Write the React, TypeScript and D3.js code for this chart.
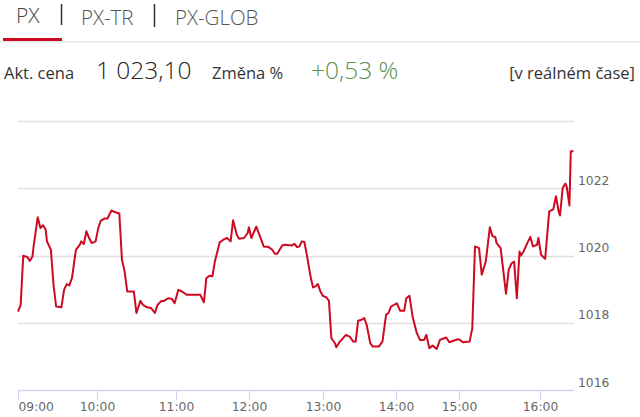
import React from "react";
import * as d3 from "d3";

// ---- data ----
const tabs = ["PX", "PX-TR", "PX-GLOB"];
const priceLabel = "Akt. cena";
const priceValue = "1 023,10";
const changeLabel = "Změna %";
const changeValue = "+0,53 %";
const realtimeLabel = "[v reálném čase]";

const times = [
  "09:00","09:02","09:04","09:07","09:09","09:11","09:12","09:15","09:17","09:19",
  "09:21","09:22","09:25","09:27","09:29","09:33","09:35","09:37","09:39","09:41",
  "09:44","09:47","09:48","09:50","09:52","09:54","09:56","09:59","10:01","10:03",
  "10:06","10:08","10:11","10:13","10:17","10:19","10:21","10:23","10:28","10:30",
  "10:33","10:35","10:38","10:41","10:44","10:46","10:49","10:51","10:54","10:57",
  "10:59","11:02","11:05","11:09","11:20","11:23","11:25","11:28","11:30","11:32",
  "11:36","11:39","11:42","11:45","11:47","11:50","11:52","11:56","11:59","12:00",
  "12:02","12:06","12:09","12:12","12:16","12:19","12:21","12:23","12:27","12:29",
  "12:35","12:37","12:39","12:41","12:43","12:45","12:47","12:50","12:52","12:54",
  "12:56","12:58","13:00","13:03","13:05","13:07","13:10","13:11","13:14","13:19",
  "13:22","13:25","13:27","13:29","13:32","13:34","13:36","13:39","13:41","13:46",
  "13:49","13:52","13:54","13:56","14:01","14:04","14:08","14:10","14:13","14:16",
  "14:20","14:23","14:27","14:29","14:32","14:35","14:39","14:42","14:46","14:48",
  "14:51","14:59","15:01","15:03","15:08","15:10","15:12","15:15","15:17","15:20",
  "15:23","15:25","15:27","15:28","15:31","15:35","15:37","15:39","15:41","15:43",
  "15:45","15:46","15:48","15:51","15:53","15:55","15:58","15:59","16:01","16:04",
  "16:05","16:07","16:10","16:12","16:14","16:15","16:17","16:19","16:20","16:22",
  "16:23","16:25",
];

const values = [
  1018.33,1018.53,1019.99,1019.96,1019.84,1019.97,1020.32,1021.14,1020.82,1020.90,
  1020.77,1020.42,1020.17,1019.13,1018.48,1018.46,1018.98,1019.15,1019.11,1019.33,
  1020.17,1020.32,1020.42,1020.34,1020.72,1020.52,1020.37,1020.42,1020.82,1021.04,
  1021.10,1021.10,1021.34,1021.30,1021.25,1019.87,1019.53,1018.93,1018.93,1018.29,
  1018.65,1018.53,1018.46,1018.44,1018.29,1018.53,1018.65,1018.65,1018.73,1018.71,
  1018.58,1018.98,1018.93,1018.83,1018.83,1018.61,1019.33,1019.40,1019.38,1019.82,
  1020.39,1020.47,1020.52,1020.42,1021.05,1020.62,1020.50,1020.52,1020.67,1020.84,
  1020.52,1020.86,1020.57,1020.27,1020.25,1020.17,1020.05,1020.05,1020.30,1020.32,
  1020.30,1020.35,1020.25,1020.27,1020.42,1020.40,1020.02,1019.38,1019.05,1019.08,
  1019.15,1018.93,1018.80,1018.75,1018.65,1017.54,1017.39,1017.27,1017.44,1017.64,
  1017.59,1017.44,1017.44,1018.06,1018.09,1018.14,1017.94,1017.39,1017.29,1017.29,
  1017.44,1018.24,1018.29,1018.48,1018.58,1018.36,1018.36,1018.73,1018.80,1018.18,
  1017.69,1017.49,1017.49,1017.64,1017.24,1017.32,1017.22,1017.49,1017.54,1017.56,
  1017.42,1017.51,1017.49,1017.42,1017.44,1017.84,1020.27,1020.22,1019.43,1019.82,
  1020.84,1020.57,1020.55,1020.37,1020.22,1018.86,1019.58,1019.76,1019.82,1018.73,
  1020.12,1020.00,1020.12,1020.39,1020.55,1020.27,1020.32,1020.52,1020.02,1019.90,
  1020.37,1021.31,1021.37,1021.76,1021.31,1021.19,1022.01,1022.14,1022.04,1021.49,
  1023.10,1023.10,
];

const xTickLabels = ["09:00","10:00","11:00","12:00","13:00","14:00","15:00","16:00"];
// relative ordinal width of each trading hour (Highcharts ordinal axis)
const hourWeights = [79, 79, 73, 74, 73, 63, 81];
const yTicks = [1016, 1018, 1020, 1022, 1024];
const yLabelTicks = [1016, 1018, 1020, 1022];

const RED = "#cc0a22";
const toMin = (s: string) => {
  const [h, m] = s.split(":").map(Number);
  return (h - 9) * 60 + m;
};

export default function App() {
  const W = 640, H = 417;
  const plotL = 18, plotR = 573.5, plotT = 121, plotB = 390;

  const lastMin = toMin(times[times.length - 1]);
  const domain = xTickLabels.map(toMin).concat([lastMin]);
  const weights = hourWeights.concat([hourWeights[hourWeights.length - 1] * (lastMin - toMin(xTickLabels[xTickLabels.length - 1])) / 60]);
  const cum = [0];
  weights.forEach((w) => cum.push(cum[cum.length - 1] + w));
  const total = cum[cum.length - 1];
  const range = cum.map((c) => plotL + (c / total) * (plotR - plotL));
  const x = d3.scaleLinear().domain(domain).range(range);
  const y = d3.scaleLinear().domain([1016, 1024]).range([plotB, plotT]);

  const pts: [number, number][] = times.map((t, i) => [toMin(t), values[i]]);
  const line = d3.line<[number, number]>().x((d) => x(d[0])).y((d) => y(d[1]));

  const font = "'Open Sans', sans-serif";
  const axisFont = "'DejaVu Sans', Verdana, sans-serif";

  return (
    <svg width={W} height={H} style={{ position: "absolute", left: 0, top: 0, background: "#fff" }}>
      {/* tabs */}
      <text x={16} y={22.5} fontFamily={font} fontWeight={300} fontSize={21} fill="#444">{tabs[0]}</text>
      <line x1={61.5} x2={61.5} y1={4} y2={25} stroke="#333" strokeWidth={1.5} />
      <text x={81} y={25} fontFamily={font} fontWeight={300} fontSize={20.5} fill="#555">{tabs[1]}</text>
      <line x1={154.5} x2={154.5} y1={4} y2={27} stroke="#333" strokeWidth={1.5} />
      <text x={175} y={25} fontFamily={font} fontWeight={300} fontSize={20.5} fill="#555">{tabs[2]}</text>
      <rect x={0} y={41} width={W} height={1.5} fill="#e6e6e6" />
      <rect x={3} y={38} width={59} height={3} fill={RED} />

      {/* price row */}
      <text x={4} y={79} fontFamily={font} fontSize={16.5} fill="#333">{priceLabel}</text>
      <text x={96} y={79} fontFamily={font} fontWeight={300} fontSize={24.5} fill="#222">{priceValue}</text>
      <text x={212} y={79} fontFamily={font} fontSize={16.5} fill="#333">{changeLabel}</text>
      <text x={311} y={79} fontFamily={font} fontWeight={300} fontSize={24.5} fill="#5a8f4e">{changeValue}</text>
      <text x={635} y={79} textAnchor="end" fontFamily={font} fontSize={16.5} fill="#333">{realtimeLabel}</text>

      {/* grid */}
      {yTicks.map((v) => (
        <line key={v} x1={plotL} x2={574} y1={Math.round(y(v)) + 0.5} y2={Math.round(y(v)) + 0.5} stroke="#e0e0e0" strokeWidth={1.5} />
      ))}
      {yLabelTicks.map((v) => (
        <text key={v} x={578} y={y(v) - 3.5} fontFamily={axisFont} fontSize={12.3} fill="#666">{v}</text>
      ))}

      {/* x axis */}
      <line x1={plotL} x2={574} y1={plotB + 0.5} y2={plotB + 0.5} stroke="#ccd6eb" strokeWidth={1} />
      {xTickLabels.map((t, i) => {
        const px = Math.round(x(toMin(t))) + 0.5;
        return (
          <g key={t}>
            <line x1={px} x2={px} y1={plotB} y2={plotB + 10} stroke="#ccd6eb" strokeWidth={1} />
            <text x={px} y={411} textAnchor={i === 0 ? "start" : "middle"} fontFamily={axisFont} fontSize={12.3} fill="#666">{t}</text>
          </g>
        );
      })}

      {/* series */}
      <path d={line(pts) || ""} fill="none" stroke={RED} strokeWidth={2} strokeLinejoin="round" />
    </svg>
  );
}
